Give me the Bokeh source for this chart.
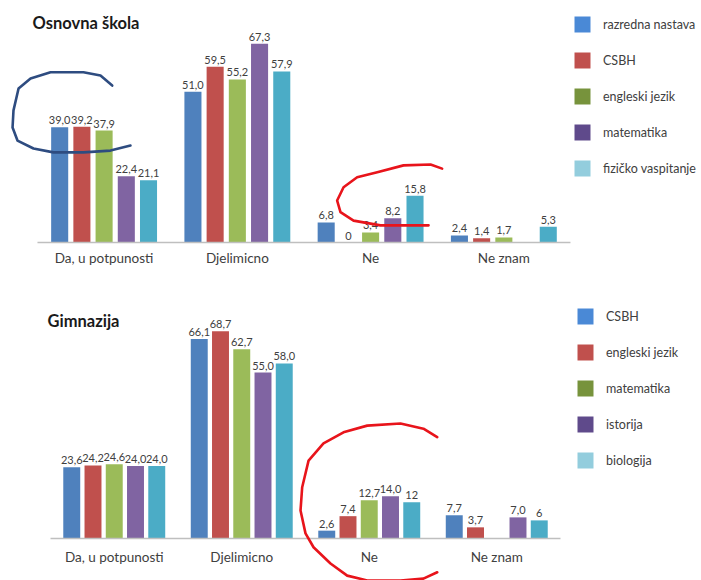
import math
from bokeh.plotting import figure
from bokeh.models import Range1d, FixedTicker, Legend, LegendItem, Label
from bokeh.layouts import column
from bokeh.embed import file_html
from bokeh.resources import INLINE
from bokeh.core.properties import value

categories = ["Da, u potpunosti", "Djelimicno", "Ne", "Ne znam"]

# ---- Osnovna škola ----
os_title = "Osnovna škola"
os_series = ["razredna nastava", "CSBH", "engleski jezik", "matematika", "fizičko vaspitanje"]
os_razredna = [39.0, 51.0, 6.8, 2.4]
os_csbh = [39.2, 59.5, 0.0, 1.4]
os_engleski = [37.9, 55.2, 3.4, 1.7]
os_matematika = [22.4, 67.3, 8.2, None]
os_fizicko = [21.1, 57.9, 15.8, 5.3]
os_labels = [
    ["39,0", "51,0", "6,8", "2,4"],
    ["39,2", "59,5", "0", "1,4"],
    ["37,9", "55,2", "3,4", "1,7"],
    ["22,4", "67,3", "8,2", None],
    ["21,1", "57,9", "15,8", "5,3"],
]

# ---- Gimnazija ----
gim_title = "Gimnazija"
gim_series = ["CSBH", "engleski jezik", "matematika", "istorija", "biologija"]
gim_csbh = [23.6, 66.1, 2.6, 7.7]
gim_engleski = [24.2, 68.7, 7.4, 3.7]
gim_matematika = [24.6, 62.7, 12.7, None]
gim_istorija = [24.0, 55.0, 14.0, 7.0]
gim_biologija = [24.0, 58.0, 12.0, 6.0]
gim_labels = [
    ["23,6", "66,1", "2,6", "7,7"],
    ["24,2", "68,7", "7,4", "3,7"],
    ["24,6", "62,7", "12,7", None],
    ["24,0", "55,0", "14,0", "7,0"],
    ["24,0", "58,0", "12", "6"],
]

# hand-drawn marker strokes (data coordinates of each chart)
os_blue_x = [0.061, -0.027, -0.155, -0.402, -0.552, -0.642, -0.680, -0.687, -0.650, -0.530, -0.380, -0.155, 0.048, 0.198]
os_blue_y = [53.1, 56.5, 57.6, 57.6, 55.5, 52.1, 44.7, 38.9, 34.5, 31.8, 30.5, 30.5, 31.1, 32.8]
os_red_x = [2.537, 2.450, 2.247, 2.050, 1.899, 1.797, 1.749, 1.774, 1.872, 2.074, 2.275, 2.435]
os_red_y = [25.0, 26.4, 26.1, 23.8, 22.1, 18.7, 14.2, 10.3, 7.4, 5.8, 5.8, 5.8]
gim_red_x = [2.533, 2.425, 2.245, 1.984, 1.798, 1.641, 1.524, 1.474, 1.461, 1.500, 1.563, 1.696, 1.827, 1.984, 2.245, 2.425, 2.533]
gim_red_y = [33.6, 36.4, 38.1, 37.4, 35.2, 31.5, 25.8, 17.0, 9.3, 1.7, -2.9, -8.3, -12.3, -13.9, -13.9, -13.3, -11.2]

bar_colors = ["#4F81BD", "#C0504D", "#9BBB59", "#8064A2", "#4BACC6"]
legend_colors = ["#4A89D6", "#C0504D", "#77933C", "#5F4A8B", "#93CDDD"]

FONT = "Lato"
W = 701


def make_chart(title, series, values, labels, height, x_start, x_end, y_start, y_end,
               bar_w, title_xy, legend_xy, strokes, standoff):
    p = figure(width=W, height=height, output_backend="svg", toolbar_location=None,
               x_range=Range1d(x_start, x_end), y_range=Range1d(y_start, y_end),
               y_axis_location=None, min_border=0, tools="")
    p.outline_line_color = None
    p.xgrid.visible = False
    p.ygrid.visible = False
    p.background_fill_color = "white"
    p.border_fill_color = "white"

    n = len(series)
    step = 1.0 / 6.0
    items = []
    for j, (name, vals, labs) in enumerate(zip(series, values, labels)):
        xs = [i + (j - (n - 1) / 2) * step for i in range(len(categories))]
        bx = [x for x, v in zip(xs, vals) if v is not None]
        bt = [v for v in vals if v is not None]
        p.vbar(x=bx, top=bt, bottom=0, width=bar_w, fill_color=bar_colors[j], line_color=None)
        lx = [x for x, t in zip(xs, labs) if t is not None]
        ly = [v for v, t in zip(vals, labs) if t is not None]
        lt = [t for t in labs if t is not None]
        p.text(x=lx, y=ly, text=lt, text_align="center", text_baseline="alphabetic",
               y_offset=-7, text_font=value(FONT), text_font_size="11px", text_color="#404040")
        # legend swatch renderer (placed outside the visible range)
        r = p.rect(x=[x_start - 10], y=[y_start - 10], width=1, height=1,
                   fill_color=legend_colors[j], line_color=None)
        items.append(LegendItem(label=name, renderers=[r]))

    # category baseline
    p.segment(x0=[-0.5], x1=[len(categories) - 0.5], y0=[0], y1=[0], line_color="#BFBFBF", line_width=1.5)

    for (sx, sy, col) in strokes:
        p.line(sx, sy, line_color=col, line_width=2.6, line_join="round", line_cap="round")

    ax = p.xaxis[0]
    ax.fixed_location = 0
    ax.ticker = FixedTicker(ticks=list(range(len(categories))))
    ax.major_label_overrides = {i: c for i, c in enumerate(categories)}
    ax.axis_line_color = None
    ax.major_tick_line_color = None
    ax.minor_tick_line_color = None
    ax.major_label_standoff = standoff
    ax.major_label_text_font = FONT
    ax.major_label_text_font_size = "13.5px"
    ax.major_label_text_color = "#404040"

    p.add_layout(Label(x=title_xy[0], y=title_xy[1], x_units="screen", y_units="screen", text=title,
                       text_font=FONT, text_font_style="bold", text_font_size="16.5px",
                       text_color="#1A1A1A", text_baseline="alphabetic"))

    legend = Legend(items=items, location=legend_xy, orientation="vertical",
                    glyph_width=20, glyph_height=20, label_height=20, spacing=16,
                    label_standoff=11, padding=0, margin=0, border_line_color=None,
                    background_fill_alpha=0, label_text_font=FONT, label_text_font_size="12.5px",
                    label_text_color="#404040")
    p.add_layout(legend, "center")
    return p


top_h = 290
bot_h = 290

p1 = make_chart(os_title, os_series,
                [os_razredna, os_csbh, os_engleski, os_matematika, os_fizicko], os_labels,
                top_h, -103.6 / 133.25, (W - 103.6) / 133.25,
                -(top_h - 242) / 2.955, 242 / 2.955, 0.128,
                (32, top_h - 22), (572, 112),
                [(os_blue_x, os_blue_y, "#2E4C80"), (os_red_x, os_red_y, "#E8141B")], 1)

p2 = make_chart(gim_title, gim_series,
                [gim_csbh, gim_engleski, gim_matematika, gim_istorija, gim_biologija], gim_labels,
                bot_h, -113.75 / 127.5, (W - 113.75) / 127.5,
                -(bot_h - 248) / 3.018, 248 / 3.018, 0.133,
                (47, bot_h - 30), (575, 110),
                [(gim_red_x, gim_red_y, "#E8141B")], 4)

layout = column(p1, p2, spacing=0)
open("out.html", "w").write(file_html(layout, INLINE))
